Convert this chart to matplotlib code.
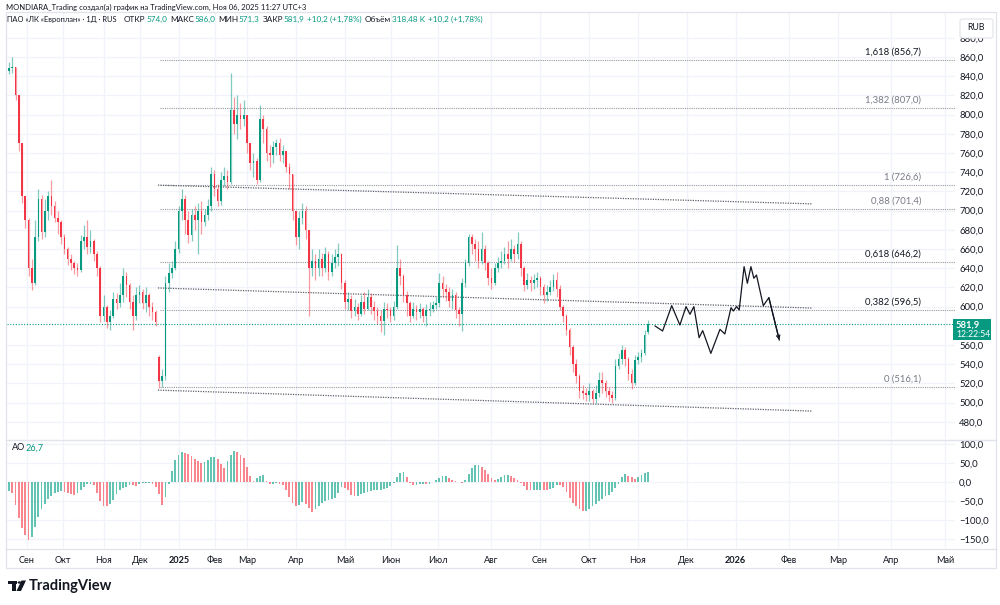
import matplotlib
matplotlib.use('Agg')
import matplotlib.pyplot as plt
from matplotlib.patches import Rectangle, FancyBboxPatch, Polygon, Circle
from matplotlib.ticker import FixedLocator, FuncFormatter

plt.rcParams['font.family'] = ['Lato', 'DejaVu Sans']

W, H = 1000, 605
UP = '#089981'
DOWN = '#F23645'
DARK = '#131722'
GRAY = '#787b86'
GRID = '#f0f3fa'

# ---------------- data (one candle = two trading sessions) ----------------
opens = [845, 848, 850, 820, 770, 715, 690, 640, 625, 672,
         712, 678, 700, 715, 705, 692, 688, 672, 660, 650,
         645, 640, 638, 668, 672, 662, 668, 655, 640, 590,
         600, 584, 590, 608, 604, 612, 632, 622, 605, 590,
         612, 615, 604, 612, 600, 594, 547, 522, 528, 625,
         635, 640, 660, 700, 712, 690, 675, 695, 690, 700,
         688, 695, 705, 738, 722, 710, 732, 736, 730, 805,
         790, 800, 795, 800, 770, 750, 752, 732, 795, 785,
         760, 758, 766, 770, 758, 762, 745, 738, 700, 672,
         692, 700, 680, 640, 648, 640, 650, 640, 655, 636,
         645, 652, 655, 625, 605, 608, 595, 600, 592, 605,
         598, 610, 600, 595, 590, 585, 598, 596, 590, 600,
         640, 632, 612, 604, 590, 598, 594, 598, 590, 596,
         598, 602, 604, 625, 618, 615, 606, 612, 596, 592,
         625, 645, 672, 665, 660, 648, 660, 645, 630, 625,
         640, 645, 648, 655, 650, 660, 655, 665, 640, 622,
         628, 625, 628, 630, 620, 612, 615, 620, 628, 618,
         600, 590, 576, 558, 540, 528, 512, 510, 508, 512,
         504, 510, 524, 520, 512, 508, 505, 538, 545, 555,
         545, 530, 520, 544, 548, 552, 574.0]
highs = [855, 860, 850, 820, 770, 715, 692, 650, 690, 722,
         716, 712, 720, 732, 710, 700, 690, 676, 662, 655,
         648, 645, 675, 685, 690, 680, 670, 658, 642, 612,
         602, 596, 615, 614, 625, 640, 636, 625, 612, 620,
         622, 618, 620, 614, 605, 596, 550, 535, 632, 645,
         648, 668, 705, 722, 716, 700, 702, 705, 708, 710,
         702, 712, 745, 742, 728, 740, 745, 742, 843, 818,
         820, 812, 815, 800, 770, 760, 755, 810, 800, 788,
         768, 772, 775, 776, 768, 762, 750, 738, 700, 700,
         708, 705, 680, 660, 655, 660, 656, 662, 658, 655,
         660, 666, 656, 628, 615, 612, 608, 604, 612, 615,
         618, 614, 606, 600, 596, 605, 604, 600, 606, 664,
         650, 634, 616, 606, 605, 602, 604, 600, 603, 605,
         606, 610, 635, 632, 624, 620, 618, 615, 600, 630,
         650, 676, 676, 670, 668, 678, 664, 648, 640, 645,
         652, 658, 662, 668, 670, 664, 678, 668, 642, 635,
         632, 634, 636, 632, 624, 622, 628, 634, 636, 622,
         602, 592, 578, 560, 545, 530, 518, 515, 520, 514,
         518, 532, 532, 524, 516, 512, 545, 552, 560, 558,
         548, 535, 550, 553, 556, 576, 586.0]
lows = [842, 843, 815, 762, 708, 682, 632, 617, 622, 668,
        670, 672, 690, 695, 688, 676, 665, 655, 643, 638,
        634, 632, 636, 660, 655, 656, 648, 632, 584, 585,
        578, 576, 588, 598, 600, 605, 610, 598, 576, 586,
        604, 598, 594, 590, 586, 580, 515, 516, 524, 615,
        630, 638, 656, 690, 676, 666, 668, 680, 655, 676,
        684, 690, 700, 715, 705, 706, 726, 722, 728, 780,
        775, 785, 788, 760, 742, 735, 728, 730, 770, 752,
        745, 750, 758, 752, 750, 740, 722, 690, 664, 660,
        686, 670, 590, 632, 628, 632, 632, 636, 628, 632,
        640, 642, 618, 598, 596, 588, 590, 586, 590, 592,
        596, 592, 586, 582, 574, 570, 588, 584, 586, 598,
        622, 605, 590, 584, 588, 586, 588, 584, 580, 590,
        594, 598, 600, 610, 606, 600, 598, 588, 580, 575,
        620, 642, 655, 648, 640, 644, 638, 622, 618, 622,
        636, 640, 644, 640, 648, 646, 650, 632, 616, 618,
        616, 618, 620, 612, 604, 606, 612, 616, 610, 596,
        584, 570, 550, 532, 520, 505, 504, 502, 502, 500,
        500, 506, 510, 506, 502, 500, 503, 535, 540, 538,
        524, 514, 518, 540, 542, 550, 571.3]
closes = [848, 850, 820, 770, 715, 690, 640, 625, 672, 712,
          678, 700, 715, 705, 692, 688, 672, 660, 650, 645,
          640, 638, 668, 672, 662, 668, 655, 640, 590, 600,
          584, 590, 608, 604, 612, 632, 622, 605, 590, 612,
          615, 604, 612, 600, 594, 584, 522, 528, 625, 635,
          640, 660, 700, 712, 690, 675, 695, 690, 700, 688,
          695, 705, 738, 722, 710, 732, 736, 730, 805, 790,
          800, 795, 800, 770, 750, 752, 732, 795, 785, 760,
          758, 766, 770, 758, 762, 745, 738, 700, 672, 692,
          700, 680, 640, 648, 640, 650, 640, 655, 636, 645,
          652, 655, 625, 605, 608, 595, 600, 592, 605, 598,
          610, 600, 595, 590, 585, 598, 596, 590, 600, 640,
          632, 612, 604, 590, 598, 594, 598, 590, 596, 598,
          602, 604, 625, 618, 615, 606, 612, 596, 592, 625,
          645, 672, 665, 660, 648, 660, 645, 630, 625, 640,
          645, 648, 655, 650, 660, 655, 665, 640, 622, 628,
          625, 628, 630, 620, 612, 615, 620, 628, 618, 600,
          590, 576, 558, 540, 528, 512, 510, 508, 512, 504,
          510, 524, 520, 512, 508, 505, 538, 545, 555, 545,
          530, 520, 544, 548, 552, 570, 581.9]
ao_values = [-25, -30, -60, -95, -122, -140, -152, -145, -118, -92,
             -72, -58, -46, -37, -30, -27, -25, -26, -29, -31,
             -33, -30, -22, -12, -4, -4, -9, -30, -50, -63,
             -64, -58, -48, -32, -22, -16, -12, -8, -9, -11,
             -4, -3, -3, -3, -4, -14, -32, -60, -40, -6,
             30, 58, 72, 78, 76, 73, 68, 60, 55, 50,
             53, 59, 66, 67, 60, 48, 38, 55, 72, 81,
             78, 70, 62, 40, 15, 3, 10, 17, 19, 2,
             -6, -6, -3, -5, -9, -22, -40, -55, -63, -60,
             -52, -58, -68, -79, -72, -63, -54, -50, -47, -45,
             -43, -30, -12, -15, -22, -34, -38, -38, -32, -28,
             -26, -24, -22, -20, -20, -19, -15, -10, -2, 12,
             24, 25, 12, -2, -7, -7, -5, -4, -6, -5,
             -1, 5, 10, 16, 17, 11, 6, 3, 0, -3,
             4, 20, 37, 46, 46, 40, 32, 22, 10, 5,
             8, 14, 18, 18, 15, 10, 5, -2, -10, -20,
             -21, -20, -20, -20, -21, -22, -19, -15, -8, -9,
             -14, -26, -42, -54, -64, -72, -77, -76, -72, -64,
             -57, -50, -44, -38, -34, -26, -16, -6, 12, 20,
             17, 12, 9, 14, 19, 24, 26.7]

month_ticks = [5.5, 16.6, 29.1, 40.2, 52.1, 63.2, 73.0, 88.0, 103.1, 117.2, 131.6,
               147.9, 162.9, 177.9, 192.9, 207.9, 222.9, 239.3, 254.3, 270.6, 287.1]
month_labels = ['Сен', 'Окт', 'Ноя', 'Дек', '2025', 'Фев', 'Мар', 'Апр', 'Май', 'Июн', 'Июл',
                'Авг', 'Сен', 'Окт', 'Ноя', 'Дек', '2026', 'Фев', 'Мар', 'Апр', 'Май']

fib_ratios = ['1,618', '1,382', '1', '0,88', '0,618', '0,382', '0']
fib_prices = [856.7, 807.0, 726.6, 701.4, 646.2, 596.5, 516.1]
fib_strong = [True, False, False, False, True, True, False]
fib_start = 46.3
fib_label_x = 279.8

channel_x = [45.7, 246.3]
channel_upper = [726.5, 707.0]
channel_mid = [619.4, 598.5]
channel_lower = [513.0, 491.2]

zigzag_idx = [198.2, 200.5, 203.3, 205.8, 207.7, 208.9, 210.1, 211.7, 212.8, 215.3, 218.1,
              219.6, 221.5, 222.2, 223.2, 224.0, 225.5, 226.5, 227.6, 228.5, 229.3, 231.4,
              233.1, 236.3]
zigzag_price = [579.8, 574.6, 601.0, 580.8, 600.0, 592.0, 600.0, 567.6, 575.0, 551.3, 576.3,
                571.5, 598.9, 595.4, 600.0, 596.5, 641.6, 624.3, 641.6, 629.5, 632.9, 601.0,
                609.3, 565.2]

price_ticks = [480, 500, 520, 540, 560, 600, 620, 640, 660, 680, 700, 720, 740, 760, 780,
               800, 820, 840, 860, 880]
ao_ticks = [100, 50, 0, -50, -100, -150]
last_price = 581.9
last_ao = 26.7

header_title = 'MONDIARA_Trading создал(а) график на TradingView.com, Ноя 06, 2025 11:27 UTC+3'
legend_symbol = 'ПАО «ЛК «Европлан» · 1Д · RUS'
legend_groups = [('ОТКР', '574,0'), ('МАКС', '586,0'), ('МИН', '571,3'), ('ЗАКР', '581,9'),
                 ('', '+10,2 (+1,78%)'), ('Объём', '318,48 K'), ('', '+10,2 (+1,78%)')]
legend_x = [124, 166, 207, 246, 286, 339, 395]

# ---------------- figure ----------------
fig = plt.figure(figsize=(W / 100, H / 100), dpi=100)
fig.patch.set_facecolor('white')
renderer = fig.canvas.get_renderer()


def fx(px):
    return px / W


def fy(py):
    return 1 - py / H


L, R = 7, 955
ax = fig.add_axes([fx(L), fy(439), (R - L) / W, (439 - 13) / H])
ax2 = fig.add_axes([fx(L), fy(548), (R - L) / W, (548 - 440) / H])

xmin, xmax = -0.61, 290.2
for a in (ax, ax2):
    a.set_xlim(xmin, xmax)
    for s in a.spines.values():
        s.set_visible(False)
    a.xaxis.set_major_locator(FixedLocator(month_ticks))
    a.grid(True, color=GRID, lw=0.9, zorder=0)
    a.set_axisbelow(True)
    a.yaxis.tick_right()
    a.tick_params(axis='y', length=0, pad=3, labelsize=6.8, labelcolor=DARK)

ax.set_ylim(462.1, 905.8)
ax2.set_ylim(-173.7, 110.5)


def fmt(v, pos=None):
    s = f"{v:.1f}".replace('.', ',')
    return s.replace('-', '\u2212')


ax.yaxis.set_major_locator(FixedLocator(price_ticks))
ax.yaxis.set_major_formatter(FuncFormatter(fmt))
ax2.yaxis.set_major_locator(FixedLocator(ao_ticks))
ax2.yaxis.set_major_formatter(FuncFormatter(fmt))
ax.tick_params(axis='x', length=0, labelbottom=False)
ax2.tick_params(axis='x', length=0, pad=6, labelsize=6.6, labelcolor=DARK)
ax2.set_xticklabels(month_labels)
for t in ax2.get_xticklabels():
    if t.get_text().isdigit():
        t.set_fontweight('bold')

# ---- candles ----
idx = list(range(len(closes)))
cols = [UP if c >= o else DOWN for o, c in zip(opens, closes)]
ax.vlines(idx, lows, highs, colors=cols, lw=0.9, alpha=0.5, zorder=3)
bottoms = [min(o, c) for o, c in zip(opens, closes)]
heights = [max(abs(c - o), 0.8) for o, c in zip(opens, closes)]
ax.bar(idx, heights, bottom=bottoms, width=0.5, color=cols, lw=0, zorder=4)

# ---- fib levels ----
for r, p, strong in zip(fib_ratios, fib_prices, fib_strong):
    ax.hlines(p, fib_start, xmax, colors='#9598a1', lw=0.8, linestyles=(0, (1, 1)), zorder=2)
    ax.annotate(f"{r} ({p:.1f})".replace('.', ','), xy=(fib_label_x, p), xytext=(0, 2.5),
                textcoords='offset points', ha='right', va='bottom', fontsize=6.8,
                color=DARK if strong else GRAY, zorder=6)

# ---- channel ----
for line in (channel_upper, channel_mid, channel_lower):
    ax.plot(channel_x, line, color='#5d606b', lw=0.9, ls=(0, (1, 1)), zorder=2)

# ---- projected zigzag ----
ax.plot(zigzag_idx, zigzag_price, color=DARK, lw=0.9, zorder=5)
ax.annotate('', xy=(zigzag_idx[-1], zigzag_price[-1]), xytext=(zigzag_idx[-2], zigzag_price[-2]),
            arrowprops=dict(arrowstyle='->', color=DARK, lw=0.9, mutation_scale=6,
                            shrinkA=0, shrinkB=0), zorder=5)

# ---- last price line ----
ax.axhline(last_price, color=UP, lw=0.8, ls=(0, (1, 1.5)), zorder=2)

# ---- AO histogram ----
ao_cols = ['#22ab94' if (i == 0 or v >= ao_values[i - 1]) else '#f7525f'
           for i, v in enumerate(ao_values)]
ax2.bar(idx, ao_values, width=0.55, color=ao_cols, lw=0, alpha=0.7, zorder=3)

# ---------------- chrome ----------------
frame = Rectangle((fx(6), fy(568)), fx(996 - 6), (568 - 12) / H, transform=fig.transFigure,
                  fill=False, ec='#e0e3eb', lw=0.9, zorder=1)
fig.patches.append(frame)
fig.add_artist(plt.Line2D([fx(6), fx(996)], [fy(439.5), fy(439.5)], color='#e0e3eb', lw=1.0))
fig.add_artist(plt.Line2D([fx(6), fx(996)], [fy(548.5), fy(548.5)], color='#e0e3eb', lw=0.9))

# RUB box
rub = FancyBboxPatch((fx(960), fy(38)), fx(33), 19 / H, boxstyle='round,pad=0,rounding_size=0.003',
                     transform=fig.transFigure, fc='white', ec='#e0e3eb', lw=0.8, zorder=10)
fig.patches.append(rub)
fig.text(fx(976.5), fy(28), 'RUB', ha='center', va='center', fontsize=6.3, color=DARK, zorder=11)

# last price label
lab = Rectangle((fx(953), fy(340)), fx(38), 21 / H, transform=fig.transFigure,
                fc=UP, ec='none', zorder=10)
fig.patches.append(lab)
fig.text(fx(956), fy(325), '581,9', ha='left', va='center', fontsize=6.8, color='white',
         fontweight='bold', zorder=11)
fig.text(fx(956), fy(334.5), '12:22:54', ha='left', va='center', fontsize=6.2, color='white',
         zorder=11)

# header
fig.text(fx(6), fy(7), header_title, ha='left', va='center', fontsize=5.5, color=DARK)
t = fig.text(fx(7), fy(19.5), legend_symbol, ha='left', va='center', fontsize=5.4,
             color=DARK, zorder=12)
cursor = 7 + t.get_window_extent(renderer).width
for (lbl, val), xp in zip(legend_groups, legend_x):
    x0 = max(xp, cursor + 3)
    if lbl:
        t = fig.text(fx(x0), fy(19.5), lbl, ha='left', va='center', fontsize=5.9,
                     color=DARK, zorder=12)
        x0 += t.get_window_extent(renderer).width + 0.5
    t = fig.text(fx(x0), fy(19.5), val, ha='left', va='center', fontsize=5.9,
                 color=UP, zorder=12)
    cursor = x0 + t.get_window_extent(renderer).width

fig.text(fx(12), fy(448), 'AO', ha='left', va='center', fontsize=6.6, color=DARK)
fig.text(fx(26), fy(448), fmt(last_ao), ha='left', va='center', fontsize=6.6, color=UP)

# TradingView logo
fig.patches.append(Rectangle((fx(8), fy(584)), fx(9), 3.5 / H, transform=fig.transFigure,
                             fc=DARK, ec='none'))
fig.patches.append(Rectangle((fx(11.5), fy(591)), fx(4), 10 / H, transform=fig.transFigure,
                             fc=DARK, ec='none'))
fig.patches.append(Circle((fx(19.5), fy(582.5)), 1.9 / W, transform=fig.transFigure,
                          fc=DARK, ec='none'))
fig.patches.append(Polygon([(fx(21.5), fy(580.5)), (fx(26), fy(580.5)), (fx(21), fy(591)),
                            (fx(16.5), fy(591))], closed=True, transform=fig.transFigure,
                           fc=DARK, ec='none'))
fig.text(fx(29), fy(586), 'TradingView', ha='left', va='center', fontsize=10.5, color=DARK,
         fontweight='bold')

fig.savefig('out.png', dpi=100, facecolor='white')
